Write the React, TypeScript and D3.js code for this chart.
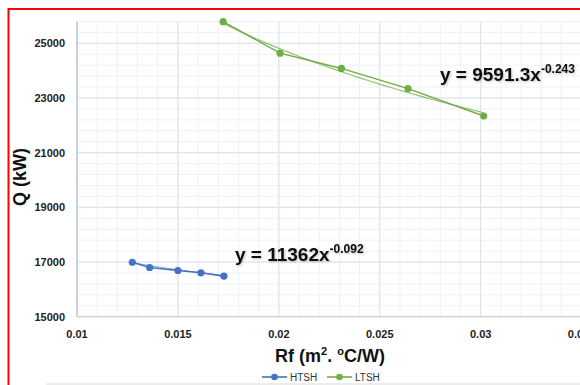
import React from "react";
import * as d3 from "d3";

const htshX = [0.01274, 0.0136, 0.015, 0.01614, 0.01728];
const htshY = [16990, 16800, 16690, 16605, 16485];
const ltshX = [0.01724, 0.02006, 0.0231, 0.0264, 0.03015];
const ltshY = [25790, 24640, 24080, 23340, 22340];
// power trendline coefficients shown on chart: y = a * x^b
const htshFit = [11362, -0.092];
const ltshFit = [9591.3, -0.243];
const xTicks = [0.01, 0.015, 0.02, 0.025, 0.03, 0.035];
const xTickLabels = ["0.01", "0.015", "0.02", "0.025", "0.03", "0.035"];
const yTicks = [15000, 17000, 19000, 21000, 23000, 25000];
const seriesNames = ["HTSH", "LTSH"];

const BLUE = "#4472C4";
const GREEN = "#70AD47";
const FONT = "'Liberation Sans', Arial, sans-serif";

export default function App() {
  const x = d3.scaleLinear().domain([0.01, 0.035]).range([77, 581.6]);
  const y = d3.scaleLinear().domain([15000, 25000]).range([316.7, 43.3]);
  const yTop = 25800;

  const minorX = d3.range(0.01, 0.0355, 0.001);
  const minorY = d3.range(15000, yTop + 1, 400);

  const line = d3
    .line<[number, number]>()
    .x((d) => x(d[0]))
    .y((d) => y(d[1]));

  const trend = (xs: number[], fit: number[]) => {
    const lo = d3.min(xs)!;
    const hi = d3.max(xs)!;
    const pts: [number, number][] = d3
      .range(0, 41)
      .map((i) => lo + ((hi - lo) * i) / 40)
      .map((v) => [v, fit[0] * Math.pow(v, fit[1])]);
    return line(pts) || "";
  };

  const htshPts: [number, number][] = htshX.map((v, i) => [v, htshY[i]]);
  const ltshPts: [number, number][] = ltshX.map((v, i) => [v, ltshY[i]]);

  return (
    <svg
      width={580}
      height={385}
      style={{ position: "absolute", left: 0, top: 0, background: "#fff" }}
      fontFamily={FONT}
    >
      <defs>
        <filter id="sh" x="-10%" y="-30%" width="130%" height="160%">
          <feDropShadow dx="1" dy="1" stdDeviation="1" floodColor="#000" floodOpacity="0.25" />
        </filter>
        <clipPath id="plot">
          <rect x={77} y={y(yTop)} width={510} height={316.7 - y(yTop)} />
        </clipPath>
      </defs>
      <rect x={0} y={0} width={580} height={385} fill="#fff" />
      {/* minor grid */}
      {minorX.map((v, i) => (
        <line key={"mx" + i} x1={x(v)} x2={x(v)} y1={y(yTop)} y2={y(15000)} stroke="#EEF1F5" strokeWidth={1} />
      ))}
      {minorY.map((v, i) => (
        <line key={"my" + i} x1={77} x2={581} y1={y(v)} y2={y(v)} stroke="#EEF1F5" strokeWidth={1} />
      ))}
      {/* major grid */}
      {xTicks.map((v, i) => (
        <line key={"gx" + i} x1={x(v)} x2={x(v)} y1={y(yTop)} y2={y(15000)} stroke="#DCE1E9" strokeWidth={1} />
      ))}
      {yTicks.map((v, i) => (
        <line key={"gy" + i} x1={77} x2={581} y1={y(v)} y2={y(v)} stroke="#DCE1E9" strokeWidth={1} />
      ))}
      {/* axes */}
      <line x1={77} x2={77} y1={y(yTop)} y2={y(15000)} stroke="#B3BFD3" strokeWidth={1.2} />
      <line x1={77} x2={581} y1={y(15000)} y2={y(15000)} stroke="#CDD3DD" strokeWidth={1.2} />
      {/* tick labels */}
      {yTicks.map((v, i) => (
        <text key={"yl" + i} x={65} y={y(v) + 4} textAnchor="end" fontSize={11} fontWeight="bold" fill="#222">
          {v}
        </text>
      ))}
      {xTicks.map((v, i) => (
        <text key={"xl" + i} x={x(v)} y={338} textAnchor="middle" fontSize={11} fontWeight="bold" fill="#222">
          {xTickLabels[i]}
        </text>
      ))}
      {/* series */}
      <g clipPath="url(#plot)">
        <path d={trend(htshX, htshFit)} fill="none" stroke={BLUE} strokeOpacity={0.6} strokeWidth={1} />
        <path d={line(htshPts) || ""} fill="none" stroke={BLUE} strokeWidth={1.6} />
        <path d={trend(ltshX, ltshFit)} fill="none" stroke={GREEN} strokeOpacity={0.75} strokeWidth={1.2} />
        <path d={line(ltshPts) || ""} fill="none" stroke={GREEN} strokeWidth={1.4} />
      </g>
      {htshPts.map((p, i) => (
        <circle key={"hp" + i} cx={x(p[0])} cy={y(p[1])} r={3.6} fill={BLUE} />
      ))}
      {ltshPts.map((p, i) => (
        <circle key={"lp" + i} cx={x(p[0])} cy={y(p[1])} r={3.6} fill={GREEN} />
      ))}
      {/* equations */}
      <text x={440} y={81} fontSize={19} fontWeight="bold" fill="#111" filter="url(#sh)">
        y = 9591.3x
        <tspan fontSize={12} dy={-8}>-0.243</tspan>
      </text>
      <text x={235} y={261} fontSize={19} fontWeight="bold" fill="#111" filter="url(#sh)">
        y = 11362x
        <tspan fontSize={12} dy={-8}>-0.092</tspan>
      </text>
      {/* axis titles */}
      <text
        transform="translate(26,177) rotate(-90)"
        textAnchor="middle"
        fontSize={18}
        fontWeight="bold"
        fill="#111"
      >
        Q (kW)
      </text>
      <text x={330} y={362} textAnchor="middle" fontSize={18} fontWeight="bold" fill="#111">
        Rf (m<tspan fontSize={11} dy={-7}>2</tspan>
        <tspan dy={7}>. </tspan>
        <tspan fontSize={11} dy={-7}>o</tspan>
        <tspan dy={7}>C/W)</tspan>
      </text>
      {/* legend */}
      <line x1={262} x2={287} y1={377} y2={377} stroke={BLUE} strokeWidth={1.6} />
      <circle cx={274.5} cy={377} r={3.3} fill={BLUE} />
      <text x={290} y={380.5} fontSize={10} fill="#333">{seriesNames[0]}</text>
      <line x1={327} x2={352} y1={377} y2={377} stroke={GREEN} strokeWidth={1.6} />
      <circle cx={339.5} cy={377} r={3.3} fill={GREEN} />
      <text x={355} y={380.5} fontSize={10} fill="#333">{seriesNames[1]}</text>
      {/* outer border lines */}
      <line x1={46} x2={580} y1={384} y2={384} stroke="#D9D9D9" strokeWidth={1} />
      <rect x={8.5} y={9} width={700} height={500} fill="none" stroke="#FF0000" strokeWidth={2} />
    </svg>
  );
}
